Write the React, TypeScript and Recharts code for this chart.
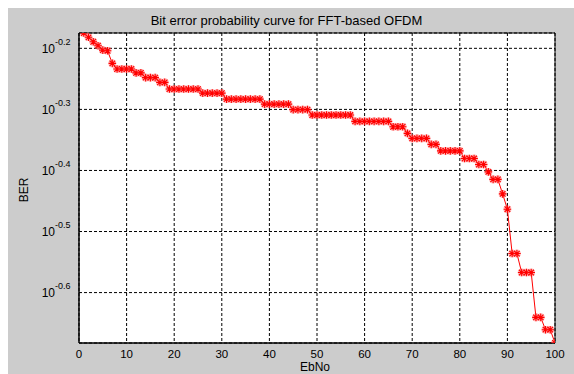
import React from 'react';
import { LineChart, Line, XAxis, YAxis, CartesianGrid, ReferenceArea } from 'recharts';

const ebNo = [
  1, 2, 3, 4, 5, 6, 7, 8, 9, 10,
  11, 12, 13, 14, 15, 16, 17, 18, 19, 20,
  21, 22, 23, 24, 25, 26, 27, 28, 29, 30,
  31, 32, 33, 34, 35, 36, 37, 38, 39, 40,
  41, 42, 43, 44, 45, 46, 47, 48, 49, 50,
  51, 52, 53, 54, 55, 56, 57, 58, 59, 60,
  61, 62, 63, 64, 65, 66, 67, 68, 69, 70,
  71, 72, 73, 74, 75, 76, 77, 78, 79, 80,
  81, 82, 83, 84, 85, 86, 87, 88, 89, 90,
  91, 92, 93, 94, 95, 96, 97, 98, 99, 100,
];

const ber = [
  0.6685, 0.6577, 0.6468, 0.6373, 0.6268, 0.6252, 0.5962, 0.5836, 0.5836, 0.5836,
  0.5836, 0.5752, 0.5752, 0.565, 0.565, 0.565, 0.555, 0.555, 0.5411, 0.5411,
  0.5411, 0.5411, 0.5411, 0.5411, 0.5411, 0.5329, 0.5329, 0.5329, 0.5329, 0.5329,
  0.521, 0.521, 0.521, 0.521, 0.521, 0.521, 0.521, 0.521, 0.5112, 0.5112,
  0.5112, 0.5112, 0.5112, 0.5112, 0.5008, 0.5008, 0.5008, 0.5008, 0.4906, 0.4906,
  0.4906, 0.4906, 0.4906, 0.4906, 0.4906, 0.4906, 0.4906, 0.479, 0.479, 0.479,
  0.479, 0.479, 0.479, 0.479, 0.479, 0.4694, 0.4694, 0.4694, 0.4578, 0.4493,
  0.4493, 0.4493, 0.4493, 0.4393, 0.4393, 0.4286, 0.4286, 0.4286, 0.4286, 0.4286,
  0.4164, 0.4164, 0.4164, 0.4072, 0.4072, 0.396, 0.3849, 0.3849, 0.3644, 0.344,
  0.291, 0.291, 0.2709, 0.2709, 0.2709, 0.2288, 0.2288, 0.2184, 0.2184, 0.2077,
];

const xTicks = [0, 10, 20, 30, 40, 50, 60, 70, 80, 90, 100];
const yTickExponents = [-0.6, -0.5, -0.4, -0.3, -0.2];
const title = 'Bit error probability curve for FFT-based OFDM';
const xLabel = 'EbNo';
const yLabel = 'BER';

const data = ebNo.map((x, i) => ({ x, ber: ber[i] }));
const yTicks = yTickExponents.map((e) => Math.pow(10, e));
const yDomain = [Math.min(...ber), Math.max(...ber)];

const W = 566;
const H = 366;

const Star = (props: any) => {
  const { cx, cy } = props;
  if (cx == null || cy == null) return null;
  const r = 3.8;
  const d = 2.8;
  const p = `M${cx - r},${cy}H${cx + r}M${cx},${cy - r}V${cy + r}M${cx - d},${cy - d}L${cx + d},${cy + d}M${cx - d},${cy + d}L${cx + d},${cy - d}`;
  return (
    <g>
      <path d={p} stroke="#ff7070" strokeWidth={3.2} strokeOpacity={0.5} fill="none" />
      <path d={p} stroke="#ff0000" strokeWidth={1.1} fill="none" />
    </g>
  );
};

const YTick = (props: any) => {
  const { x, y, payload } = props;
  const exp = Math.log10(payload.value).toFixed(1);
  return (
    <g>
      <text x={x - 24} y={y + 4.5} textAnchor="end" fontSize={12} fill="#000">10</text>
      <text x={x - 24} y={y - 3.5} textAnchor="start" fontSize={9} fill="#000">{exp}</text>
    </g>
  );
};

const XTick = (props: any) => {
  const { x, y, payload } = props;
  return (
    <text x={x} y={y + 14.5} textAnchor="middle" fontSize={11.5} fill="#000">{payload.value}</text>
  );
};

export default function App() {
  return (
    <div
      style={{
        position: 'fixed',
        left: 8,
        top: 8,
        width: W,
        height: H,
        background: '#cccccc',
        fontFamily: '"Liberation Sans", Arial, sans-serif',
      }}
    >
      <LineChart
        width={W}
        height={H}
        data={data}
        margin={{ top: 25, right: 19, bottom: 0, left: 0 }}
      >
        <CartesianGrid
          fill="#ffffff"
          stroke="#000"
          strokeDasharray="3 2"
          strokeWidth={1}
        />
        <XAxis
          dataKey="x"
          type="number"
          domain={[0, 100]}
          ticks={xTicks}
          allowDataOverflow
          height={31}
          tickSize={0}
          tickMargin={0}
          tickLine={false}
          axisLine={{ stroke: '#000' }}
          tick={<XTick />}
        />
        <YAxis
          type="number"
          scale="log"
          domain={yDomain}
          allowDataOverflow
          ticks={yTicks}
          width={71}
          tickSize={0}
          tickMargin={0}
          tickLine={false}
          axisLine={{ stroke: '#000' }}
          tick={<YTick />}
        />
        <ReferenceArea
          x1={0}
          x2={100}
          y1={yDomain[0]}
          y2={yDomain[1]}
          fill="none"
          stroke="#000"
          strokeWidth={1}
        />
        <Line
          dataKey="ber"
          stroke="#ff0000"
          strokeWidth={1}
          dot={<Star />}
          isAnimationActive={false}
        />
      </LineChart>
      <svg
        width={W}
        height={H}
        style={{ position: 'absolute', left: 0, top: 0, pointerEvents: 'none' }}
      >
        <text x={278.5} y={17} textAnchor="middle" fontSize={13} fill="#000">{title}</text>
        <text x={307} y={363} textAnchor="middle" fontSize={12} fill="#000">{xLabel}</text>
        <text
          x={15.5}
          y={182}
          textAnchor="middle"
          dominantBaseline="central"
          fontSize={12}
          fill="#000"
          transform="rotate(-90 15.5 182)"
        >
          {yLabel}
        </text>
      </svg>
    </div>
  );
}
